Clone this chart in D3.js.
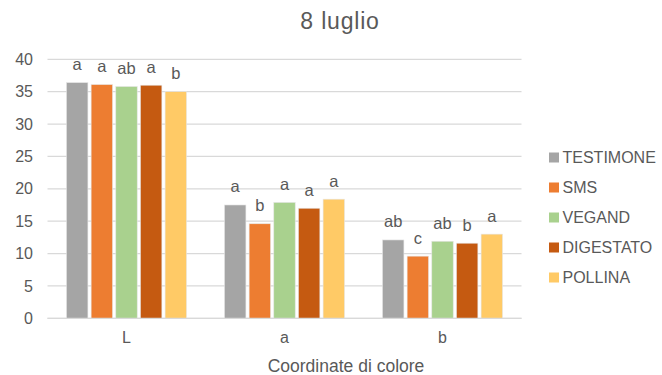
<!DOCTYPE html>
<html>
<head>
<meta charset="utf-8">
<script src="https://cdn.jsdelivr.net/npm/d3@7"></script>
<style>
  html, body { margin: 0; padding: 0; background: #fff; }
  svg { display: block; font-family: "Liberation Sans", Arial, Helvetica, sans-serif; }
</style>
</head>
<body>
<svg id="chart" width="662" height="375"></svg>
<script>
// Colour coordinates (L, a, b) measured on 8 July, by treatment
const categories = ["L", "a", "b"];
const seriesNames = ["TESTIMONE", "SMS", "VEGAND", "DIGESTATO", "POLLINA"];
const testimone = [36.4, 17.5, 12.1];
const sms       = [36.1, 14.6, 9.6];
const vegand    = [35.8, 17.9, 11.9];
const digestato = [36.0, 17.0, 11.6];
const pollina   = [35.0, 18.4, 13.0];
// significance letters, same order as the values
const lettTestimone = ["a", "a", "ab"];
const lettSms       = ["a", "b", "c"];
const lettVegand    = ["ab", "a", "ab"];
const lettDigestato = ["a", "a", "b"];
const lettPollina   = ["b", "a", "a"];
const yTicks = [0, 5, 10, 15, 20, 25, 30, 35, 40];
const colors = ["#A5A5A5", "#ED7D31", "#A9D18E", "#C55A11", "#FFCA66"];

const values = [testimone, sms, vegand, digestato, pollina];
const letters = [lettTestimone, lettSms, lettVegand, lettDigestato, lettPollina];

const svg = d3.select("#chart");
const textColor = "#595959";

const plot = { left: 47.5, right: 521.5, top: 59.3, bottom: 318.3 };

const x0 = d3.scaleBand().domain(categories)
  .range([plot.left, plot.right]).paddingInner(0.24).paddingOuter(0.12);
const x1 = d3.scaleBand().domain(seriesNames)
  .range([0, x0.bandwidth()]).paddingInner(0.13).paddingOuter(0);
const y = d3.scaleLinear().domain([0, 40]).range([plot.bottom, plot.top]);

// horizontal gridlines
svg.append("g").selectAll("line").data(yTicks).join("line")
  .attr("x1", plot.left).attr("x2", plot.right)
  .attr("y1", d => y(d)).attr("y2", d => y(d))
  .attr("stroke", "#D9D9D9").attr("stroke-width", 1.3);

// y axis labels
const yAxis = d3.axisLeft(y).tickValues(yTicks).tickSize(0).tickPadding(0);
svg.append("g").attr("transform", `translate(${33},0)`).call(yAxis)
  .call(g => g.select(".domain").remove())
  .call(g => g.selectAll("text").attr("fill", textColor)
    .attr("font-size", 16).attr("font-family", "Liberation Sans, Arial, sans-serif"));

// x axis category labels
const xAxis = d3.axisBottom(x0).tickSize(0).tickPadding(0);
svg.append("g").attr("transform", `translate(0,${plot.bottom + 13})`).call(xAxis)
  .call(g => g.select(".domain").remove())
  .call(g => g.selectAll("text").attr("fill", textColor)
    .attr("font-size", 16).attr("font-family", "Liberation Sans, Arial, sans-serif"));

// bars
const groups = svg.append("g").selectAll("g").data(categories).join("g")
  .attr("transform", c => `translate(${x0(c)},0)`);

groups.each(function(c, ci) {
  const g = d3.select(this);
  seriesNames.forEach((s, si) => {
    const v = values[si][ci];
    g.append("rect")
      .attr("x", x1(s))
      .attr("y", y(v))
      .attr("width", x1.bandwidth())
      .attr("height", y(0) - y(v))
      .attr("fill", colors[si])
      .attr("stroke", "#E6E6E6").attr("stroke-width", 0.6);
    g.append("text")
      .attr("x", x1(s) + x1.bandwidth() / 2)
      .attr("y", y(v) - 12.5)
      .attr("text-anchor", "middle")
      .attr("font-size", 16.5)
      .attr("fill", textColor)
      .text(letters[si][ci]);
  });
});

// axis baseline
svg.append("line")
  .attr("x1", plot.left).attr("x2", plot.right)
  .attr("y1", y(0)).attr("y2", y(0))
  .attr("stroke", "#D9D9D9").attr("stroke-width", 1.3);

// title
svg.append("text").attr("x", 340).attr("y", 28.5)
  .attr("text-anchor", "middle").attr("font-size", 23)
  .attr("letter-spacing", 0.8)
  .attr("fill", textColor).text("8 luglio");

// axis title
svg.append("text").attr("x", 346).attr("y", 371.5)
  .attr("text-anchor", "middle").attr("font-size", 17.5)
  .attr("fill", textColor).text("Coordinate di colore");

// legend
const legend = svg.append("g").selectAll("g").data(seriesNames).join("g")
  .attr("transform", (d, i) => `translate(549,${157.5 + i * 30})`);
legend.append("rect").attr("x", 0).attr("y", -5).attr("width", 10).attr("height", 10)
  .attr("fill", (d, i) => colors[i]);
legend.append("text").attr("x", 13.5).attr("y", 5.8)
  .attr("font-size", 16).attr("fill", textColor).text(d => d);
</script>
</body>
</html>
